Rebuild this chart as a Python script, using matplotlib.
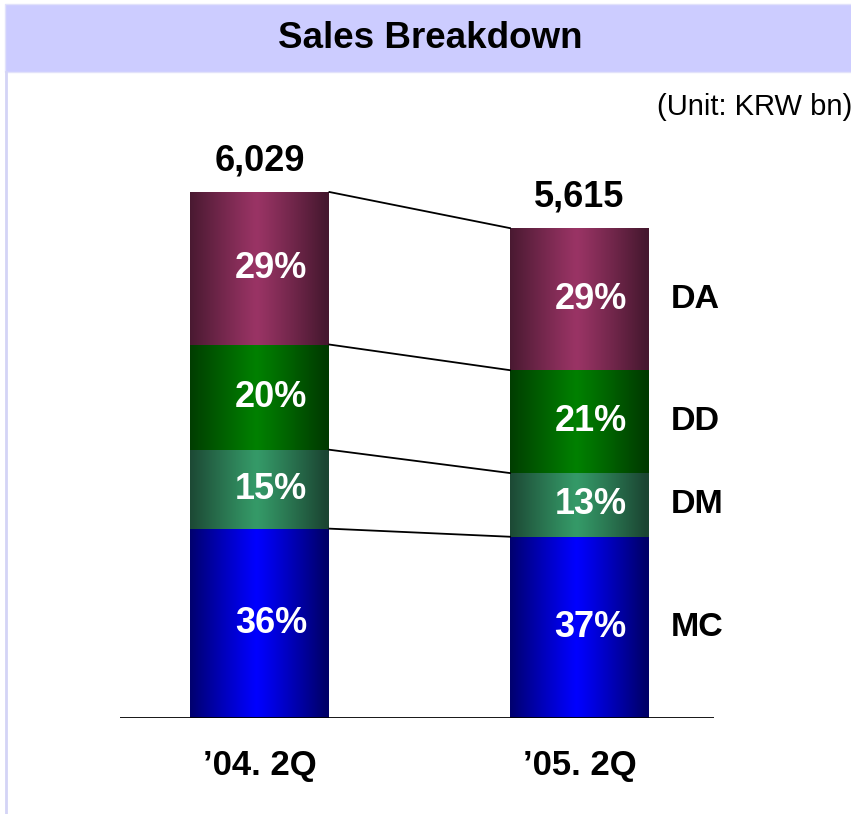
import matplotlib
matplotlib.use('Agg')
import matplotlib.pyplot as plt
import numpy as np
from matplotlib.patches import Rectangle
from matplotlib.colors import to_rgb

plt.rcParams['font.family'] = ['Liberation Sans', 'DejaVu Sans']

# data
periods = ['\u201904. 2Q', '\u201905. 2Q']
totals = [6029, 5615]
segments = ['MC', 'DM', 'DD', 'DA']          # bottom -> top
shares = {
    'MC': [36, 37],
    'DM': [15, 13],
    'DD': [20, 21],
    'DA': [29, 29],
}
# edge colour, centre colour for the shaded look
seg_colors = {
    'MC': ('#000068', '#0000ff'),
    'DM': ('#1b4532', '#359a68'),
    'DD': ('#003a00', '#008000'),
    'DA': ('#46182f', '#9a3465'),
}

W, H = 851, 814
fig = plt.figure(figsize=(W / 100, H / 100), dpi=100)

# title banner + left frame line
fig.patches.append(Rectangle((5 / W, 1 - 72 / H), 1, 68 / H, transform=fig.transFigure,
                             facecolor='#ccccff', edgecolor='#e2e2fa', lw=1))
fig.lines.append(plt.Line2D([6 / W, 6 / W], [0, 1 - 72 / H], transform=fig.transFigure,
                            color='#d4d4f6', lw=2))
fig.text(430 / W, 1 - 39 / H, 'Sales Breakdown', ha='center', va='center',
         fontsize=26.5, fontweight='bold')
fig.text(657 / W, 1 - 107 / H, '(Unit: KRW bn)', ha='left', va='center', fontsize=21)

ax = fig.add_axes([120 / W, 96 / H, 594 / W, 610.7 / H])
ax.set_axis_off()
x = np.arange(len(periods))
bw = 0.435
xlim = (-0.438, 1.421)
ylim = (0, 7000)

bottoms = np.zeros(len(periods))
bounds = [bottoms.copy()]
u = np.linspace(-1, 1, 200)
t = 1 - np.abs(u + 0.04) ** 1.1
for seg in segments:
    vals = np.array(totals) * np.array(shares[seg]) / 100
    bars = ax.bar(x, vals, bottom=bottoms, width=bw, color='none', edgecolor='none')
    c0, c1 = np.array(to_rgb(seg_colors[seg][0])), np.array(to_rgb(seg_colors[seg][1]))
    grad = (c0[None, :] + (c1 - c0)[None, :] * np.clip(t, 0, 1)[:, None])[None, :, :]
    for i, p in enumerate(bars.patches):
        im = ax.imshow(grad, extent=[p.get_x(), p.get_x() + p.get_width(),
                                     p.get_y(), p.get_y() + p.get_height()],
                       aspect='auto', interpolation='bilinear', zorder=2)
        im.set_clip_path(p)
        ax.annotate(f'{shares[seg][i]}%', (x[i], p.get_y() + p.get_height() / 2),
                    xytext=(11, 0), textcoords='offset pixels', ha='center', va='center',
                    color='white', fontsize=26, fontweight='bold', zorder=4)
    ax.annotate(seg, (x[-1] + bw / 2, bottoms[-1] + vals[-1] / 2), xytext=(22, 0),
                textcoords='offset pixels', ha='left', va='center', fontsize=24.5,
                fontweight='bold', annotation_clip=False)
    bottoms = bottoms + vals
    bounds.append(bottoms.copy())

# connectors between the two bars
for b in bounds[1:]:
    ax.plot([x[0] + bw / 2, x[1] - bw / 2], [b[0], b[1]], color='black', lw=1.3, zorder=3)

for i, tot in enumerate(totals):
    ax.annotate(f'{tot:,}', (x[i], tot), xytext=(0, 31), textcoords='offset pixels',
                ha='center', va='center', fontsize=26, fontweight='bold')
    ax.annotate(periods[i], (x[i], 0), xytext=(0, -47), textcoords='offset pixels',
                ha='center', va='center', fontsize=25, fontweight='bold',
                annotation_clip=False)

ax.axhline(0, color='black', lw=2, zorder=5)
ax.set_xlim(*xlim)
ax.set_ylim(*ylim)

fig.savefig('out.png', dpi=100)
